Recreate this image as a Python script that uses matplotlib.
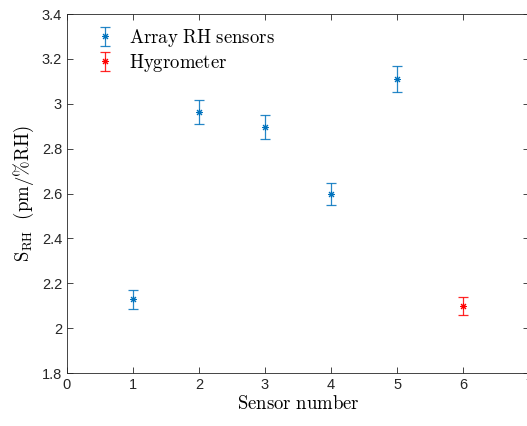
import matplotlib.pyplot as plt
from matplotlib.ticker import FuncFormatter

plt.rcParams["font.family"] = ["Liberation Sans", "DejaVu Sans"]
plt.rcParams["mathtext.fontset"] = "cm"

sensor_ids = [1, 2, 3, 4, 5]
sensor_vals = [2.128, 2.962, 2.896, 2.598, 3.111]
sensor_err = [0.043, 0.054, 0.054, 0.05, 0.059]

hygro_ids = [6]
hygro_vals = [2.098]
hygro_err = [0.04]

blue = "#0072BD"
red = "#FF0000"
star = (8, 2, 0)

fig = plt.figure(figsize=(5.27, 4.26), dpi=100)
ax = fig.add_axes([0.127, 0.1244, 0.877, 0.8426])


def draw_series(x, y, err, color):
    eb = ax.errorbar(x, y, yerr=err, fmt="none", ecolor=color,
                     elinewidth=0.9, capsize=3.5, capthick=0.9, alpha=0.85)
    (pts,) = ax.plot(x, y, linestyle="none", marker=star, ms=5, mew=0.75,
                     color=color)
    return (eb, pts)


h1 = draw_series(sensor_ids, sensor_vals, sensor_err, blue)
h2 = draw_series(hygro_ids, hygro_vals, hygro_err, red)

ax.legend([h1, h2], [r"$\mathrm{Array\ RH\ sensors}$", r"$\mathrm{Hygrometer}$"],
          loc="upper left", bbox_to_anchor=(0.041, 0.985), frameon=False,
          fontsize=13.5, handletextpad=0.7, borderaxespad=0, borderpad=0.4,
          labelspacing=0.15, handlelength=1.2)

ax.set_xlim(0, 7)
ax.set_ylim(1.8, 3.4)
ax.set_xticks(range(0, 8))
ax.set_yticks([1.8, 2.0, 2.2, 2.4, 2.6, 2.8, 3.0, 3.2, 3.4])
ax.yaxis.set_major_formatter(FuncFormatter(lambda v, p: f"{v:g}"))
ax.tick_params(direction="in", top=True, right=True, labelsize=10.5,
               length=4, width=0.6, colors="#262626")
for s in ax.spines.values():
    s.set_linewidth(0.6)
    s.set_color("#262626")

ax.set_xlabel(r"$\mathrm{Sensor\ number}$", fontsize=13.5, labelpad=2)
ax.set_ylabel(r"$\mathrm{S_{RH}\ \ (pm/\%RH)}$", fontsize=13.5, labelpad=4)

fig.savefig("out.png", dpi=100)
